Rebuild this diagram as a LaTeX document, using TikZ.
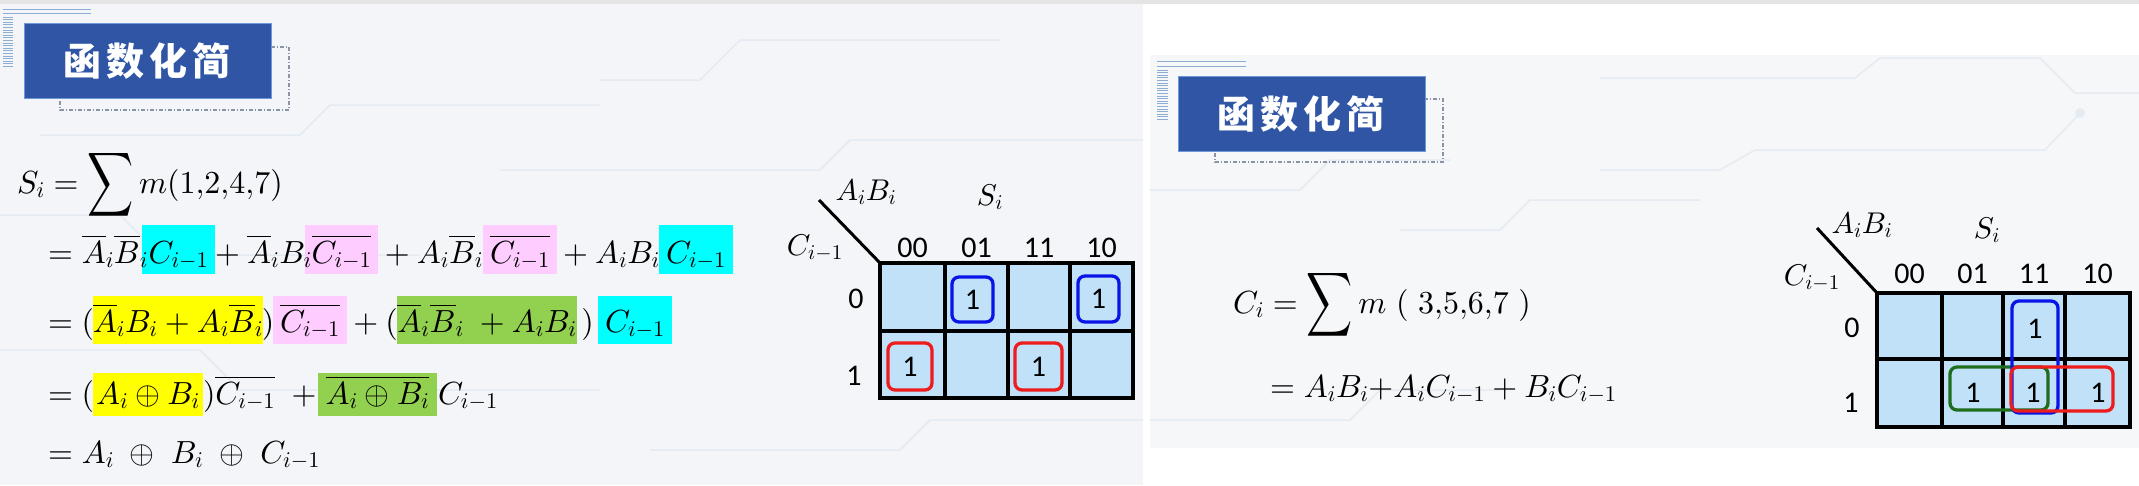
\documentclass[tikz,border=0pt]{standalone}
\usepackage{amsmath}
\usepackage{graphicx}
\usepackage{fontspec}
\DeclareFontFamily{OML}{cmm}{\skewchar\font'177}
\DeclareFontShape{OML}{cmm}{m}{it}{<->cmmi10}{}
\DeclareFontShape{OML}{cmm}{b}{it}{<->cmmib10}{}
\DeclareFontFamily{OMS}{cmsy}{\skewchar\font'60}
\DeclareFontShape{OMS}{cmsy}{m}{n}{<->cmsy10}{}
\DeclareFontShape{OMS}{cmsy}{b}{n}{<->cmbsy10}{}
\DeclareFontFamily{OMX}{cmex}{}
\DeclareFontShape{OMX}{cmex}{m}{n}{<->cmex10}{}
\DeclareFontFamily{OT1}{cmr}{\hyphenchar\font45 }
\DeclareFontShape{OT1}{cmr}{m}{n}{<->cmr10}{}
\newfontfamily\cjk{Noto Sans CJK SC}
\newfontfamily\kfont{Carlito}
\newcommand\bigsum{\mathop{\vcenter{\hbox{\scalebox{1}[1.4]{$\displaystyle\sum$}}}}}
\definecolor{hlcyan}{HTML}{00FFFF}
\definecolor{hlpink}{HTML}{FFCCFF}
\definecolor{hlyellow}{HTML}{FFFF00}
\definecolor{hlgreen}{HTML}{92D050}
\definecolor{kcell}{HTML}{C0E1F8}
\definecolor{hdrblue}{HTML}{2F55A4}
\definecolor{hdredge}{HTML}{6C9AD8}
\definecolor{decoline}{HTML}{8DAED2}
\definecolor{dashgray}{HTML}{8A94A6}
\definecolor{bgleft}{HTML}{F3F5F8}
\definecolor{bgright}{HTML}{F5F7F9}
\definecolor{circuit}{HTML}{E5EBF2}
\definecolor{kblue}{HTML}{0A14E6}
\definecolor{kred}{HTML}{EE1C1C}
\definecolor{kgreen}{HTML}{1E6E1E}
\definecolor{topgray}{HTML}{E4E4E4}
\tikzset{
 eq/.style={inner sep=0pt, outer sep=0pt, font=\fontsize{32}{38}\selectfont},
 eqw/.style={eq, anchor=base west},
 eqc/.style={eq, anchor=base},
 hl/.style n args={4}{eq, anchor=base, fill=#1, minimum width=#2, text height=#3, text depth=#4},
 klab/.style={inner sep=0pt, font=\fontsize{30}{34}\selectfont, anchor=base},
 kdig/.style={inner sep=0pt, font=\kfont\fontsize{30}{34}\selectfont},
 kgrid/.style={line width=3.5pt, draw=black},
 kloop/.style={line width=3.3pt, rounded corners=7pt},
 hdr/.style={fill=hdrblue, draw=hdredge, line width=1pt},
 hdrtext/.style={text=white, font=\cjk\bfseries\fontsize{38}{40}\selectfont, inner sep=0pt},
 dashbox/.style={draw=dashgray, line width=1.2pt, dash pattern=on 4pt off 2pt on 1pt off 2pt},
 deco/.style={draw=decoline, line width=1pt},
 circ/.style={draw=circuit, line width=1.5pt},
}
\begin{document}
\begin{tikzpicture}[x=1pt,y=-1pt]
\useasboundingbox (0,0) rectangle (2139,485);
% backgrounds
\fill[white] (0,0) rectangle (2139,485);
\fill[topgray] (0,0) rectangle (2139,4);
\fill[bgleft] (0,4) rectangle (1143,485);
\fill[bgright] (1150,55) rectangle (2139,448);
% faint circuit traces
\draw[circ] (40,135) -- (300,135) -- (330,105) -- (600,105);
\draw[circ] (0,215) -- (120,215) -- (160,255) -- (420,255);
\draw[circ] (600,80) -- (700,80) -- (740,40) -- (1000,40);
\draw[circ] (500,170) -- (820,170) -- (850,140) -- (1143,140);
\draw[circ] (0,350) -- (200,350) -- (240,390) -- (600,390);
\draw[circ] (650,450) -- (900,450) -- (930,420) -- (1143,420);
\draw[circ] (1600,78) -- (1855,78) -- (1880,58) -- (2040,58) -- (2075,93) -- (2139,93);
\draw[circ] (1600,170) -- (1720,170) -- (1755,150) -- (2045,150) -- (2080,113);
\fill[circuit] (2080,113) circle (5pt);
\draw[circ] (1150,190) -- (1300,190) -- (1330,160) -- (1450,160);
\draw[circ] (1400,230) -- (1500,230) -- (1530,200) -- (1700,200);
\draw[circ] (1150,420) -- (1350,420) -- (1380,390) -- (1500,390);

% ===== left header =====
\draw[deco] (3,9) -- (91,9);
\draw[deco] (3,13) -- (91,13);
\foreach \k in {0,...,19} \draw[deco] (3,{17+\k*2.6}) -- (13,{17+\k*2.6});
\draw[dashbox] (60,47) rectangle (289,110);
\draw[hdr] (24,23) rectangle (271,98);
\node[hdrtext] (hdrL) at (147,61) {函\hspace{5pt}数\hspace{5pt}化\hspace{5pt}简};

% ===== right header =====
\draw[deco] (1157,61) -- (1246,61);
\draw[deco] (1157,66) -- (1246,66);
\foreach \k in {0,...,19} \draw[deco] (1157,{70+\k*2.6}) -- (1168,{70+\k*2.6});
\draw[dashbox] (1215,99) rectangle (1443,162);
\draw[hdr] (1178,76) rectangle (1425,151);
\node[hdrtext] (hdrR) at (1301,114) {函\hspace{5pt}数\hspace{5pt}化\hspace{5pt}简};

% ===== left equations =====
\node[eqw] (l1) at (17,193) {$S_i=\bigsum m(1{,}2{,}4{,}7)$};
% line 2
\node[hl={hlcyan}{73pt}{38pt}{11pt}] (l2c1) at (178.5,263) {$C_{i-1}$};
\node[hl={hlpink}{73pt}{38pt}{11pt}] (l2p1) at (341.5,263) {$\overline{C_{i-1}}$};
\node[hl={hlpink}{74pt}{38pt}{11pt}] (l2p2) at (520,263) {$\overline{C_{i-1}}$};
\node[hl={hlcyan}{74pt}{38pt}{11pt}] (l2c2) at (696,263) {$C_{i-1}$};
\node[eqw] (l2a) at (48,263) {$=\overline{A}_i\overline{B}_i$};
\node[eqc] (l2b) at (260,263) {${}+{}\overline{A}_iB_i$};
\node[eqc] (l2d) at (430.5,263) {${}+{}A_i\overline{B}_i$};
\node[eqc] (l2e) at (608,263) {${}+{}A_iB_i$};
% line 3
\node[hl={hlyellow}{170pt}{36pt}{12pt}] (l3y) at (178,332) {$\overline{A}_iB_i+A_i\overline{B}_i$};
\node[hl={hlpink}{74pt}{36pt}{12pt}] (l3p) at (310,332) {$\overline{C_{i-1}}$};
\node[hl={hlgreen}{180pt}{36pt}{12pt}] (l3g) at (487,332) {$\overline{A}_i\overline{B}_i\;+A_iB_i$};
\node[hl={hlcyan}{74pt}{36pt}{12pt}] (l3c) at (635,332) {$C_{i-1}$};
\node[eqw] (l3a) at (48,332) {$=($};
\node[eqc] (l3b) at (268,332) {$)$};
\node[eqc] (l3d) at (372,332) {${}+{}($};
\node[eqc] (l3e) at (587.5,332) {$)$};
% line 4
\node[hl={hlyellow}{110pt}{31pt}{12pt}] (l4y) at (148,404) {$A_i\oplus B_i$};
\node[hl={hlgreen}{119pt}{31pt}{12pt}] (l4g) at (377.5,404) {$\overline{A_i\oplus B_i}$};
\node[eqw] (l4a) at (48,404) {$=($};
\node[eqw] (l4b) at (203,404) {$)\overline{C_{i-1}}$};
\node[eqc] (l4c) at (304,404) {$+$};
\node[eqw] (l4d) at (438,404) {$C_{i-1}$};
% line 5
\node[eqw] (l5) at (48,463) {$=A_i\;\oplus\; B_i\;\oplus\; C_{i-1}$};

% ===== left K-map =====
\fill[kcell] (880,263) rectangle (1133,398);
\draw[kgrid] (880,263) rectangle (1133,398);
\draw[kgrid] (945,263) -- (945,398);
\draw[kgrid] (1008,263) -- (1008,398);
\draw[kgrid] (1070,263) -- (1070,398);
\draw[kgrid] (880,331) -- (1133,331);
\coordinate (dLa) at (819,200);
\coordinate (dLb) at (880,263);
\draw[line width=3pt] (dLa) -- (dLb);
\node[klab] (kLab) at (866,200) {$A_iB_i$};
\node[klab] (kLs) at (990,205) {$S_i$};
\node[klab, anchor=base east] (kLc) at (843,255) {$C_{i-1}$};
\node[kdig, anchor=base] (kLh1) at (912.5,257) {00};
\node[kdig, anchor=base] (kLh2) at (976.5,257) {01};
\node[kdig, anchor=base] (kLh3) at (1039,257) {11};
\node[kdig, anchor=base] (kLh4) at (1101.5,257) {10};
\node[kdig, anchor=base] (kLr0) at (856,308) {0};
\node[kdig, anchor=base] (kLr1) at (854,385) {1};
\draw[kloop, kblue] (952,277) rectangle (993,322);
\draw[kloop, kblue] (1078,276) rectangle (1119,322);
\draw[kloop, kred] (888,343) rectangle (932,390);
\draw[kloop, kred] (1015,343) rectangle (1062,390);
\node[kdig] (kL1) at (972.5,299.5) {1};
\node[kdig] (kL2) at (1098.5,299) {1};
\node[kdig] (kL3) at (910,366.5) {1};
\node[kdig] (kL4) at (1038.5,366.5) {1};

% ===== right equations =====
\node[eqw] (r1) at (1233,313) {$C_i=\bigsum m\ (\ 3{,}5{,}6{,}7\ )$};
\node[eqw] (r2) at (1270,397) {$=A_iB_i{+}A_iC_{i-1}+B_iC_{i-1}$};

% ===== right K-map =====
\fill[kcell] (1877,293) rectangle (2130,427);
\draw[kgrid] (1877,293) rectangle (2130,427);
\draw[kgrid] (1942,293) -- (1942,427);
\draw[kgrid] (2003,293) -- (2003,427);
\draw[kgrid] (2065,293) -- (2065,427);
\draw[kgrid] (1877,359) -- (2130,359);
\coordinate (dRa) at (1817,228);
\coordinate (dRb) at (1877,293);
\draw[line width=3pt] (dRa) -- (dRb);
\node[klab] (kRab) at (1862,233) {$A_iB_i$};
\node[klab] (kRs) at (1987,238) {$S_i$};
\node[klab, anchor=base east] (kRc) at (1840,285) {$C_{i-1}$};
\node[kdig, anchor=base] (kRh1) at (1909.5,283) {00};
\node[kdig, anchor=base] (kRh2) at (1972.5,283) {01};
\node[kdig, anchor=base] (kRh3) at (2034,283) {11};
\node[kdig, anchor=base] (kRh4) at (2097.5,283) {10};
\node[kdig, anchor=base] (kRr0) at (1852,337) {0};
\node[kdig, anchor=base] (kRr1) at (1851,412) {1};
\draw[kloop, kgreen] (1950,367) rectangle (2048,410);
\draw[kloop, kblue] (2012,301) rectangle (2058,413);
\draw[kloop, kred] (2011,367) rectangle (2113,411);
\node[kdig] (kR1) at (2035,329) {1};
\node[kdig] (kR2) at (1973,393) {1};
\node[kdig] (kR3) at (2033,393) {1};
\node[kdig] (kR4) at (2098,393) {1};
\end{tikzpicture}
\end{document}
